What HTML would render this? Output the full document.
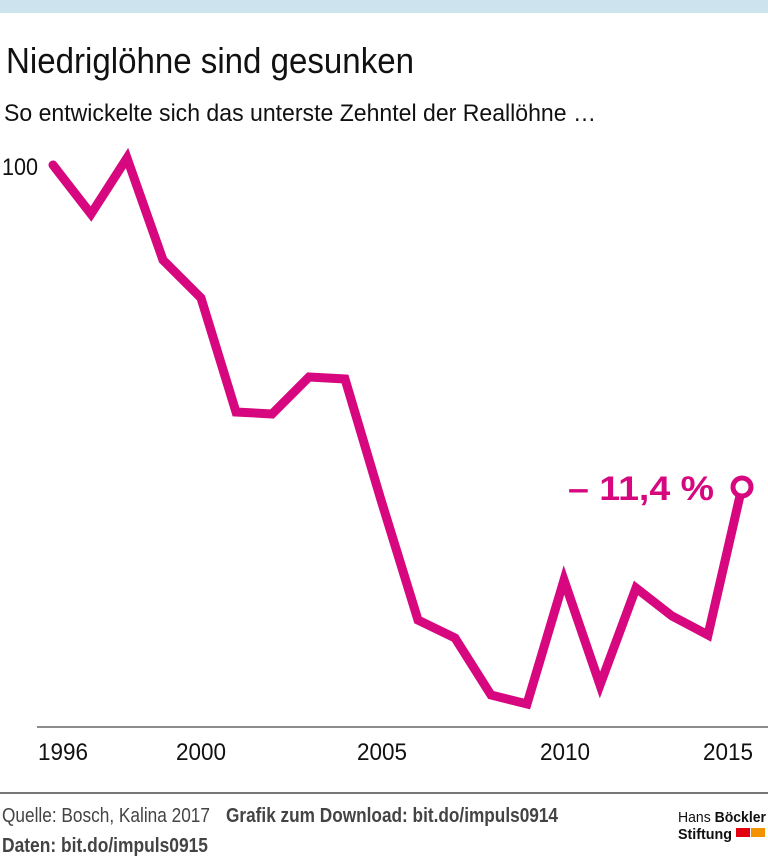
<!DOCTYPE html>
<html><head><meta charset="utf-8"><style>
body{margin:0;background:#fff}
svg text{font-family:"Liberation Sans",sans-serif}
</style></head><body>
<svg width="768" height="856" viewBox="0 0 768 856" xmlns="http://www.w3.org/2000/svg">
<rect x="0" y="0" width="768" height="13" fill="#cde4ee"/>
<text x="6" y="73" font-size="36" fill="#111" textLength="408" lengthAdjust="spacingAndGlyphs">Niedriglöhne sind gesunken</text>
<text x="4" y="121" font-size="24" fill="#111" textLength="592" lengthAdjust="spacingAndGlyphs">So entwickelte sich das unterste Zehntel der Reallöhne …</text>
<text x="2" y="175" font-size="24" fill="#111" textLength="36" lengthAdjust="spacingAndGlyphs">100</text>
<line x1="37" y1="727" x2="768" y2="727" stroke="#666" stroke-width="1.5"/>
<g font-size="24" fill="#111">
<text x="38" y="760" textLength="50" lengthAdjust="spacingAndGlyphs">1996</text>
<text x="176" y="760" textLength="50" lengthAdjust="spacingAndGlyphs">2000</text>
<text x="357" y="760" textLength="50" lengthAdjust="spacingAndGlyphs">2005</text>
<text x="540" y="760" textLength="50" lengthAdjust="spacingAndGlyphs">2010</text>
<text x="703" y="760" textLength="50" lengthAdjust="spacingAndGlyphs">2015</text>
</g>
<polyline fill="none" stroke="#d6077f" stroke-width="9" stroke-linejoin="miter" stroke-linecap="round"
points="53,165 91,214 127,158 163,260 201,298 236,412 272,414 309,377 345,379 381,500 418,620 455,638 491,695 527,704 564,580 600,685 636,588 672,616 708,635 742,487"/>
<circle cx="742" cy="487" r="9" fill="#fff" stroke="#d6077f" stroke-width="5"/>
<text x="568" y="500" font-size="34" font-weight="bold" fill="#d6077f" textLength="146" lengthAdjust="spacingAndGlyphs">– 11,4 %</text>
<line x1="0" y1="793" x2="768" y2="793" stroke="#777" stroke-width="2"/>
<text x="2" y="822" font-size="20" fill="#444" textLength="208" lengthAdjust="spacingAndGlyphs">Quelle: Bosch, Kalina 2017</text>
<text x="226" y="822" font-size="20" font-weight="bold" fill="#444" textLength="332" lengthAdjust="spacingAndGlyphs">Grafik zum Download: bit.do/impuls0914</text>
<text x="2" y="852" font-size="20" font-weight="bold" fill="#444" textLength="206" lengthAdjust="spacingAndGlyphs">Daten: bit.do/impuls0915</text>
<text x="678" y="822" font-size="15" fill="#111" textLength="88" lengthAdjust="spacingAndGlyphs">Hans <tspan font-weight="bold">Böckler</tspan></text>
<text x="678" y="839" font-size="15" font-weight="bold" fill="#111" textLength="54" lengthAdjust="spacingAndGlyphs">Stiftung</text>
<rect x="736" y="828" width="14" height="9" fill="#e3000f"/>
<rect x="751" y="828" width="14" height="9" fill="#f39200"/>
</svg>
</body></html>
